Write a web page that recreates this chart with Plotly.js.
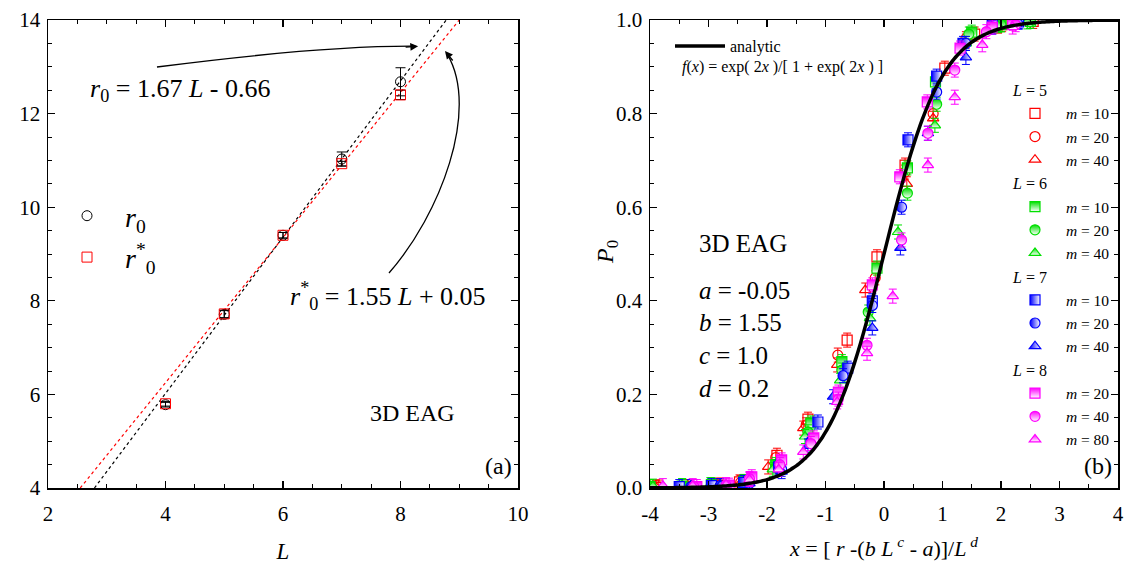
<!DOCTYPE html>
<html><head><meta charset="utf-8">
<script src="https://cdn.plot.ly/plotly-3.0.1.min.js"></script>
<style>html,body{margin:0;padding:0;background:#fff}#chart{width:1138px;height:567px}</style>
</head><body><div id="chart"></div>
<script>
// ---------- panel (a) data ----------
const L_vals = [4, 5, 6, 7, 8];
const r0 = [5.78, 7.71, 9.40, 11.03, 12.68];
const r0_err = [0.05, 0.08, 0.06, 0.15, 0.30];
const r0s = [5.80, 7.72, 9.40, 10.93, 12.40];
const r0s_err = [0.05, 0.08, 0.06, 0.05, 0.10];
const fit_r0 = {slope: 1.67, intercept: -0.66};
const fit_r0s = {slope: 1.55, intercept: 0.05};

// ---------- panel (b) data ----------
const x_L5_m10 = [-3.90, -3.36, -2.82, -2.47, -1.83, -1.30, -0.63, -0.12, 0.36, 1.04, 1.55, 2.02, 2.55];
const p_L5_m10 = [0.002, 0.003, 0.006, 0.013, 0.070, 0.147, 0.316, 0.494, 0.690, 0.897, 0.970, 0.990, 0.997];
const x_L5_m20 = [-3.85, -3.30, -2.80, -2.45, -1.85, -1.33, -0.79, -0.15, 0.36, 0.84, 1.40, 1.95, 2.50];
const p_L5_m20 = [0.002, 0.003, 0.006, 0.012, 0.065, 0.135, 0.284, 0.449, 0.675, 0.800, 0.960, 0.988, 0.997];
const x_L5_m40 = [-3.90, -3.35, -2.85, -2.45, -1.98, -1.38, -0.80, -0.32, 0.39, 0.84, 1.40, 1.95, 2.50];
const p_L5_m40 = [0.002, 0.003, 0.005, 0.011, 0.045, 0.128, 0.263, 0.423, 0.650, 0.790, 0.955, 0.987, 0.997];

const x_L6_m10 = [-4.00, -3.45, -2.95, -2.40, -1.85, -1.25, -0.72, -0.12, 0.40, 0.88, 1.50, 2.00, 2.50];
const p_L6_m10 = [0.003, 0.004, 0.007, 0.014, 0.050, 0.139, 0.270, 0.470, 0.684, 0.868, 0.974, 0.990, 0.997];
const x_L6_m20 = [-4.00, -3.45, -2.95, -2.40, -1.85, -1.30, -0.72, -0.27, 0.40, 0.90, 1.45, 2.00, 2.50];
const p_L6_m20 = [0.003, 0.004, 0.006, 0.013, 0.045, 0.120, 0.252, 0.376, 0.630, 0.820, 0.970, 0.990, 0.997];
const x_L6_m40 = [-3.95, -3.45, -2.97, -2.40, -1.90, -1.35, -0.75, -0.24, 0.24, 0.87, 1.40, 1.95, 2.45];
const p_L6_m40 = [0.004, 0.005, 0.007, 0.012, 0.040, 0.110, 0.230, 0.363, 0.547, 0.775, 0.950, 0.988, 0.996];

const x_L7_m10 = [-3.50, -2.95, -2.40, -1.80, -1.13, -0.62, -0.20, 0.41, 0.90, 1.35, 1.85, 2.30];
const p_L7_m10 = [0.003, 0.005, 0.012, 0.045, 0.141, 0.256, 0.400, 0.744, 0.880, 0.950, 0.990, 0.996];
const x_L7_m20 = [-3.30, -2.80, -2.30, -1.75, -1.25, -0.70, -0.20, 0.30, 0.90, 1.40, 1.85, 2.30];
const p_L7_m20 = [0.003, 0.005, 0.010, 0.040, 0.100, 0.240, 0.390, 0.600, 0.846, 0.950, 0.985, 0.996];
const x_L7_m40 = [-3.30, -2.80, -2.30, -1.75, -1.30, -0.87, -0.20, 0.28, 0.75, 1.40, 1.85, 2.30];
const p_L7_m40 = [0.003, 0.005, 0.010, 0.035, 0.090, 0.195, 0.342, 0.513, 0.758, 0.920, 0.985, 0.996];

const x_L8_m20 = [-3.20, -2.65, -2.26, -1.75, -1.20, -0.78, -0.20, 0.27, 0.74, 1.30, 1.85, 2.20];
const p_L8_m20 = [0.003, 0.006, 0.024, 0.060, 0.107, 0.205, 0.434, 0.665, 0.825, 0.940, 0.985, 0.993];
const x_L8_m40 = [-3.25, -2.70, -2.30, -1.78, -1.25, -0.78, -0.29, 0.30, 0.75, 1.21, 1.75, 2.25];
const p_L8_m40 = [0.003, 0.006, 0.020, 0.050, 0.095, 0.190, 0.305, 0.530, 0.758, 0.893, 0.975, 0.990];
const x_L8_m80 = [-3.78, -3.27, -2.70, -2.30, -1.80, -1.38, -0.80, -0.29, 0.15, 0.75, 1.21, 1.68, 2.20];
const p_L8_m80 = [0.005, 0.005, 0.007, 0.018, 0.040, 0.077, 0.184, 0.288, 0.410, 0.690, 0.835, 0.947, 0.985];

const p_err = 0.015;
const xTickVals = [-4, -3, -2, -1, 0, 1, 2, 3, 4];
const xTickText = ['-4', '-3', '-2', '-1', '0', '1', '2', '3', '4'];

// analytic curve f(x) = exp(2x)/[1+exp(2x)] as stated on the chart
const xa = [];
for (let v = -4; v <= 4.0001; v += 0.05) xa.push(+v.toFixed(2));
const pa = xa.map(v => Math.exp(2 * v) / (1 + Math.exp(2 * v)));

const FONT = 'Liberation Serif';
const RED = '#ff0000', GREEN = '#00e000', BLUE = '#0000ff', MAG = '#ff00ff';

const traces = [];

// panel (a)
function fitLine(f) {
  const ya = [4, 14];
  return {x: ya.map(y => (y - f.intercept) / f.slope), y: ya};
}
const fl1 = fitLine(fit_r0), fl2 = fitLine(fit_r0s);
traces.push({x: fl1.x, y: fl1.y, xaxis: 'x', yaxis: 'y', mode: 'lines', line: {color: '#000', dash: 'dot', width: 1.2}, showlegend: false, hoverinfo: 'skip'});
traces.push({x: fl2.x, y: fl2.y, xaxis: 'x', yaxis: 'y', mode: 'lines', line: {color: RED, dash: 'dot', width: 1.2}, showlegend: false, hoverinfo: 'skip'});
traces.push({x: L_vals, y: r0, xaxis: 'x', yaxis: 'y', mode: 'markers', name: '<i>r</i><sub>0</sub>',
  legend: 'legend2', legendgroup: 'a1',
  marker: {symbol: 'circle-open', size: 10, color: '#000', line: {width: 1}},
  error_y: {type: 'data', array: r0_err, color: '#000', thickness: 1, width: 5}});
traces.push({x: L_vals, y: r0s, xaxis: 'x', yaxis: 'y', mode: 'markers', name: '<i>r</i><sup>*</sup><sub>0</sub>',
  legend: 'legend2', legendgroup: 'a2',
  marker: {symbol: 'square-open', size: 10, color: RED, line: {width: 1}},
  error_y: {type: 'data', array: r0s_err, color: '#000', thickness: 1, width: 5}});

// panel (b)
function ser(x, p, name, grp, gtitle, symbol, color, grad) {
  const m = {symbol: symbol, size: 10, color: color, line: {width: 1.2, color: color}};
  if (grad) m.gradient = {type: grad, color: '#ffffff'};
  const t = {x: x, y: p, xaxis: 'x2', yaxis: 'y2', mode: 'markers', name: '&nbsp;' + name, legendgroup: grp,
    marker: m, error_y: {type: 'constant', value: p_err, color: color, thickness: 1, width: 4}};
  if (gtitle) t.legendgrouptitle = {text: gtitle, font: {family: FONT, size: 16, color: '#000'}};
  return t;
}
traces.push(ser(x_L5_m10, p_L5_m10, '<i>m</i> = 10', 'L5', '<i>L</i> = 5', 'square-open', RED));
traces.push(ser(x_L5_m20, p_L5_m20, '<i>m</i> = 20', 'L5', '<i>L</i> = 5', 'circle-open', RED));
traces.push(ser(x_L5_m40, p_L5_m40, '<i>m</i> = 40', 'L5', '<i>L</i> = 5', 'triangle-up-open', RED));
traces.push(ser(x_L6_m10, p_L6_m10, '<i>m</i> = 10', 'L6', '<i>L</i> = 6', 'square', GREEN, 'vertical'));
traces.push(ser(x_L6_m20, p_L6_m20, '<i>m</i> = 20', 'L6', '<i>L</i> = 6', 'circle', GREEN, 'vertical'));
traces.push(ser(x_L6_m40, p_L6_m40, '<i>m</i> = 40', 'L6', '<i>L</i> = 6', 'triangle-up', GREEN, 'vertical'));
traces.push(ser(x_L7_m10, p_L7_m10, '<i>m</i> = 10', 'L7', '<i>L</i> = 7', 'square', BLUE, 'horizontal'));
traces.push(ser(x_L7_m20, p_L7_m20, '<i>m</i> = 20', 'L7', '<i>L</i> = 7', 'circle', BLUE, 'horizontal'));
traces.push(ser(x_L7_m40, p_L7_m40, '<i>m</i> = 40', 'L7', '<i>L</i> = 7', 'triangle-up', BLUE, 'horizontal'));
traces.push(ser(x_L8_m20, p_L8_m20, '<i>m</i> = 20', 'L8', '<i>L</i> = 8', 'square', MAG, 'vertical'));
traces.push(ser(x_L8_m40, p_L8_m40, '<i>m</i> = 40', 'L8', '<i>L</i> = 8', 'circle', MAG, 'vertical'));
traces.push(ser(x_L8_m80, p_L8_m80, '<i>m</i> = 80', 'L8', '<i>L</i> = 8', 'triangle-up', MAG, 'vertical'));
traces.push({x: xa, y: pa, xaxis: 'x2', yaxis: 'y2', mode: 'lines', name: 'analytic', legend: 'legend3',
  line: {color: '#000', width: 3.5, shape: 'spline'}, hoverinfo: 'skip'});

const W = 1138, H = 567;
const px = v => v / W, py = v => 1 - v / H;

function ax(extra) {
  return Object.assign({
    showline: true, linecolor: '#000', linewidth: 1.5, mirror: 'allticks',
    ticks: 'inside', ticklen: 7, tickwidth: 1.2, tickcolor: '#000',
    minor: {ticks: 'inside', ticklen: 4, tickwidth: 1, tickcolor: '#000'},
    showgrid: false, zeroline: false,
    tickfont: {family: FONT, size: 21, color: '#000'}
  }, extra);
}

const ann = (x, y, text, size, extra) => Object.assign({
  x: x, y: y, xref: 'paper', yref: 'paper', text: text, showarrow: false,
  xanchor: 'center', yanchor: 'middle',
  font: {family: FONT, size: size, color: '#000'}
}, extra || {});

const layout = {
  width: W, height: H,
  margin: {l: 0, r: 0, t: 0, b: 0},
  paper_bgcolor: '#fff', plot_bgcolor: '#fff',
  font: {family: FONT, color: '#000'},
  xaxis: ax({domain: [px(48), px(518)], range: [2, 10], dtick: 2, anchor: 'y', ticklabelstandoff: 6,
    title: {text: '<i>L</i>', font: {family: FONT, size: 23}, standoff: 18}}),
  yaxis: ax({domain: [py(488), py(20)], range: [4, 14], dtick: 2, anchor: 'x', ticklabelstandoff: 2}),
  xaxis2: ax({domain: [px(650), px(1118)], range: [-4, 4], tickvals: xTickVals, ticktext: xTickText, anchor: 'y2', ticklabelstandoff: 6,
    minor: {ticks: 'inside', ticklen: 4, tickwidth: 1, tickcolor: '#000', dtick: 0.5, tick0: 0},
    title: {text: '<i>x</i> = [ <i>r</i> -(<i>b L</i><sup> <i>c</i></sup> - <i>a</i>)]/<i>L</i><sup> <i>d</i></sup>', font: {family: FONT, size: 22}, standoff: 16}}),
  yaxis2: ax({domain: [py(488), py(20)], range: [0, 1], dtick: 0.2, tickformat: '.1f', anchor: 'x2', ticklabelstandoff: 2}),
  showlegend: true,
  legend: {x: px(1008), y: py(73), xanchor: 'left', yanchor: 'top', bgcolor: 'rgba(0,0,0,0)',
    font: {family: FONT, size: 15.5, color: '#000'}, tracegroupgap: 0, itemwidth: 44},
  legend2: {x: px(49), y: py(191), xanchor: 'left', yanchor: 'top', bgcolor: 'rgba(0,0,0,0)',
    font: {family: FONT, size: 28, color: '#000'}, tracegroupgap: 2, itemwidth: 66},
  legend3: {x: px(670), y: py(29), xanchor: 'left', yanchor: 'top', bgcolor: 'rgba(0,0,0,0)',
    font: {family: FONT, size: 16, color: '#000'}, itemwidth: 50},
  annotations: [
    ann(px(607), py(252), '<i>P</i><sub>0</sub>', 24, {textangle: -90}),
    ann(px(88), py(90), '<i>r</i><sub>0</sub> = 1.67 <i>L</i> - 0.66', 26, {xanchor: 'left'}),
    ann(px(288), py(296), '<i>r</i><sup>*</sup><sub>0</sub> = 1.55 <i>L</i> + 0.05', 26, {xanchor: 'left'}),
    ann(px(412), py(413), '3D EAG', 24),
    ann(px(498), py(466), '(a)', 24),
    ann(px(1098), py(466), '(b)', 24),
    ann(px(680), py(67), '<i>f</i>(<i>x</i>) = exp( 2<i>x</i> )/[ 1 + exp( 2<i>x</i> ) ]', 16, {xanchor: 'left'}),
    ann(px(697), py(243), '3D EAG', 25, {xanchor: 'left'}),
    ann(px(697), py(290), '<i>a</i> = -0.05', 25, {xanchor: 'left'}),
    ann(px(697), py(322), '<i>b</i> = 1.55', 25, {xanchor: 'left'}),
    ann(px(697), py(355), '<i>c</i> = 1.0', 25, {xanchor: 'left'}),
    ann(px(697), py(388), '<i>d</i> = 0.2', 25, {xanchor: 'left'}),
    // arrowheads
    {x: 8.30, y: 13.44, xref: 'x', yref: 'y', ax: -14, ay: 1, text: '', showarrow: true,
      arrowhead: 2, arrowsize: 1.2, arrowwidth: 1.3, arrowcolor: '#000'},
    {x: 8.757, y: 13.338, xref: 'x', yref: 'y', ax: 9, ay: 11, text: '', showarrow: true,
      arrowhead: 2, arrowsize: 1.2, arrowwidth: 1.3, arrowcolor: '#000'}
  ],
  shapes: [
    {type: 'path', xref: 'x', yref: 'y', path: 'M 3.855,12.996 Q 6.63,13.444 8.20,13.44', line: {color: '#000', width: 1.3}},
    {type: 'path', xref: 'x', yref: 'y', path: 'M 7.804,8.594 C 8.672,9.833 9.353,12.077 8.80,13.26', line: {color: '#000', width: 1.3}}
  ]
};

Plotly.newPlot('chart', traces, layout, {displayModeBar: false, staticPlot: true});
</script>
</body></html>
